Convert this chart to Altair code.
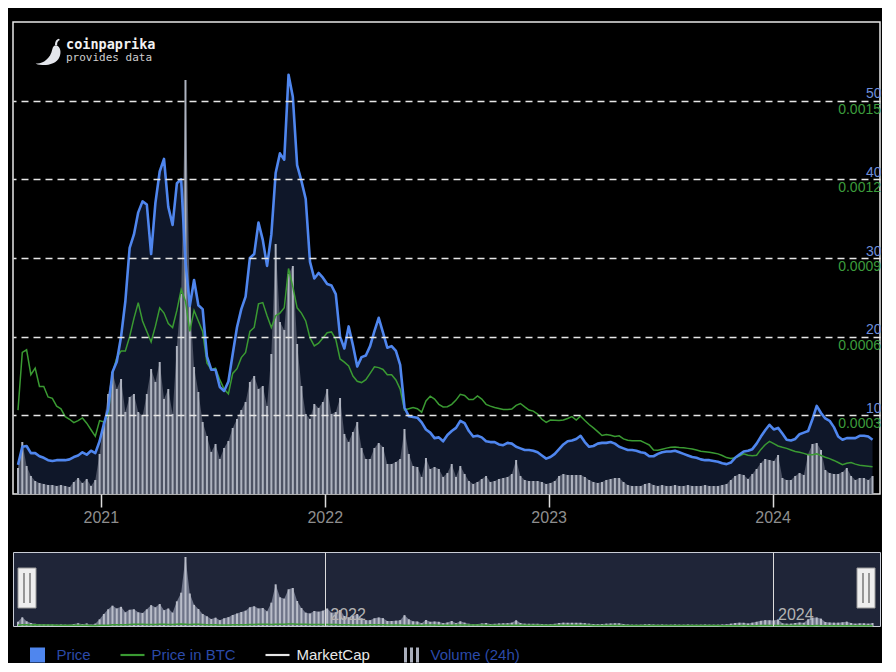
import altair as alt
import pandas as pd

# ---------------- data (weekly) ----------------
X_START = "2020-08-19"
X_END = "2024-06-16"
N_WEEKS = 200

price_usd = [
    3.7, 6.0, 6.1, 5.2, 5.2, 4.8, 4.6, 4.3, 4.2, 4.3,
    4.3, 4.3, 4.4, 4.7, 4.9, 5.3, 5.0, 5.5, 5.2, 6.7,
    8.9, 10.8, 15.5, 16.8, 20.0, 24.5, 31.3, 33.0, 35.8, 37.2,
    36.8, 30.5, 37.0, 41.0, 42.6, 36.5, 34.2, 39.5, 40.0, 29.5,
    23.9, 27.2, 24.0, 23.5, 17.5, 15.8, 15.8, 13.6, 13.1, 14.3,
    17.8, 21.2, 23.5, 25.1, 30.0, 30.5, 34.5, 32.3, 29.0, 33.0,
    40.8, 43.3, 42.5, 53.3, 50.5, 41.8, 39.8, 37.5, 29.5, 27.4,
    28.1, 27.5, 26.7, 26.5, 25.4, 20.0, 18.5, 21.3, 18.9, 16.2,
    17.4, 17.6, 18.8, 20.7, 22.4, 20.5, 18.6, 18.8, 18.2, 16.4,
    11.0, 9.9, 9.8, 9.7, 9.1, 8.2, 7.8, 7.1, 7.2, 6.7,
    7.5, 8.0, 8.4, 9.3, 9.0, 8.0, 7.3, 7.4, 7.2, 6.7,
    6.6, 6.6, 6.3, 6.2, 6.5, 6.4, 6.0, 5.8, 5.6, 5.6,
    5.5, 5.3, 4.9, 4.5, 4.7, 5.1, 5.7, 6.3, 6.7, 6.8,
    7.0, 7.4, 6.6, 6.0, 6.1, 6.4, 6.5, 6.5, 6.6, 6.4,
    6.0, 5.8, 5.6, 5.6, 5.5, 5.3, 5.2, 4.8, 4.8, 5.1,
    5.3, 5.4, 5.4, 5.5, 5.3, 5.1, 4.9, 4.7, 4.6, 4.4,
    4.3, 4.3, 4.2, 4.1, 3.9, 3.8, 4.0, 4.6, 5.0, 5.4,
    5.5, 5.7, 6.4, 7.3, 8.1, 8.8, 8.2, 8.4, 7.7, 6.9,
    6.8, 7.0, 7.6, 7.8, 8.0, 9.5, 11.2, 10.3, 9.6, 9.3,
    8.5, 7.3, 6.9, 7.1, 7.1, 7.1, 7.4, 7.4, 7.3, 6.9,
]

# price in BTC, in units of 1e-4 BTC
price_btc_e4 = [
    3.2, 5.4, 5.5, 4.55, 4.8, 4.1, 4.1, 3.7, 3.65, 3.35,
    3.25, 2.95, 2.85, 2.72, 2.8, 2.9, 2.7, 2.45, 2.2, 2.8,
    2.75, 3.0, 4.6, 5.2, 5.45, 5.45, 6.0, 6.7, 7.3, 6.6,
    6.2, 5.8, 6.4, 7.1, 6.9, 6.5, 6.35, 7.0, 7.8, 7.35,
    6.2, 7.0, 6.6, 6.2, 5.0, 4.74, 4.8, 4.35, 4.0, 3.82,
    4.6, 4.78, 5.2, 5.4, 6.2, 6.35, 7.25, 7.3, 6.8, 6.35,
    6.8, 6.9, 7.1, 8.6, 7.9, 7.1, 6.9, 6.6, 5.95, 5.65,
    5.75, 5.95, 6.15, 6.18, 5.9, 5.15, 5.03, 4.88, 4.5, 4.3,
    4.25, 4.36, 4.6, 4.85, 4.82, 4.75, 4.55, 4.55, 4.35, 4.0,
    3.2, 3.25, 3.3, 3.25, 3.12, 3.55, 3.73, 3.62, 3.42, 3.32,
    3.33, 3.42, 3.58, 3.8, 3.76, 3.6, 3.6, 3.74, 3.62, 3.42,
    3.35, 3.3, 3.26, 3.22, 3.22, 3.24, 3.38, 3.45, 3.32, 3.2,
    3.16, 3.05, 2.85, 2.73, 2.82, 2.81, 2.8, 2.82, 2.88, 2.95,
    2.82, 2.97, 2.8, 2.65, 2.52, 2.38, 2.23, 2.27, 2.24, 2.19,
    2.22, 2.1, 2.05, 2.03, 2.03, 2.03, 1.95, 1.87, 1.68, 1.67,
    1.71, 1.75, 1.78, 1.79, 1.77, 1.76, 1.74, 1.72, 1.68, 1.63,
    1.61, 1.59, 1.56, 1.53, 1.47, 1.39, 1.35, 1.38, 1.45, 1.53,
    1.48, 1.46, 1.48, 1.7, 1.88, 2.01, 1.92, 1.83, 1.78, 1.74,
    1.68, 1.62, 1.59, 1.55, 1.5, 1.5, 1.53, 1.47, 1.4, 1.35,
    1.28, 1.2, 1.12, 1.17, 1.2, 1.14, 1.1, 1.08, 1.06, 1.04,
]

# 24h volume, million USD
volume_musd = [
    1.3, 2.6, 1.4, 0.9, 0.65, 0.55, 0.5, 0.45, 0.45, 0.4,
    0.45, 0.4, 0.35, 0.6, 0.8, 0.55, 0.75, 0.4, 0.7, 2.0,
    3.6, 5.0, 6.1, 5.25, 5.75, 4.1, 4.85, 5.0, 4.1, 3.9,
    5.0, 6.25, 5.6, 6.6, 4.75, 5.25, 4.0, 7.4, 10.0, 20.7,
    9.75, 6.35, 5.1, 3.6, 2.9, 2.1, 2.5, 1.75, 2.3, 2.65,
    3.3, 3.75, 4.2, 4.6, 5.6, 5.9, 5.25, 5.4, 4.4, 7.0,
    12.5, 8.6, 8.2, 11.0, 11.4, 7.5, 5.4, 4.0, 3.75, 4.5,
    4.3, 4.6, 5.25, 4.0, 4.1, 4.8, 3.0, 2.6, 3.1, 3.6,
    2.3, 1.75, 1.75, 2.3, 2.55, 2.35, 1.5, 1.5, 1.6, 1.75,
    3.25, 2.0, 1.4, 1.35, 0.85, 1.8, 1.25, 1.35, 1.25, 0.85,
    1.05, 1.5, 0.85, 1.4, 1.0, 0.65, 0.5, 0.6, 0.75, 0.9,
    0.6, 0.65, 0.75, 0.8, 0.85, 1.0, 1.7, 0.9, 0.7, 0.65,
    0.65, 0.65, 0.6, 0.5, 0.55, 0.65, 0.9, 1.0, 0.95, 0.95,
    0.95, 0.95, 0.85, 0.7, 0.6, 0.55, 0.6, 0.7, 0.75, 0.8,
    0.8, 0.6, 0.45, 0.4, 0.4, 0.4, 0.5, 0.55, 0.45, 0.4,
    0.45, 0.4, 0.4, 0.45, 0.4, 0.4, 0.45, 0.4, 0.4, 0.4,
    0.45, 0.4, 0.4, 0.4, 0.45, 0.5, 0.7, 0.9, 1.0, 0.95,
    0.75, 1.0, 1.25, 1.55, 1.75, 1.7, 1.65, 1.95, 0.8, 0.7,
    0.7, 0.9, 1.05, 0.95, 2.0, 2.5, 2.55, 2.2, 1.2, 1.05,
    1.0, 1.0, 1.1, 1.3, 0.9, 0.7, 0.8, 0.8, 0.7, 0.9,
]

price_ticks = [10, 20, 30, 40, 50]
btc_ticks = [0.0003, 0.0006, 0.0009, 0.0012, 0.0015]
main_years = [2021, 2022, 2023, 2024]
nav_years = [2022, 2024]
legend_names = ["Price", "Price in BTC", "MarketCap", "Volume (24h)"]
legend_colors = ["#4f86ee", "#3a9a32", "#e6e6e6", "#a9aebb"]
logo_title = ["coinpaprika"]
logo_sub = ["provides data"]

# ---------------- build ----------------
dates = pd.date_range(X_START, periods=N_WEEKS, freq="7D")
df = pd.DataFrame({
    "date": dates,
    "price": price_usd,
    "btc": [v * 1e-4 for v in price_btc_e4],
    "volume": volume_musd,
})

W, H = 867, 472
NAV_H = 74
FONT = "Liberation Sans"
C_PRICE, C_BTC = legend_colors[0], legend_colors[1]


def dt(s):
    t = pd.Timestamp(s)
    return alt.DateTime(year=t.year, month=t.month, date=t.day)


x_dom = [dt(X_START), dt(X_END)]

x_main = alt.X(
    "date:T",
    scale=alt.Scale(domain=x_dom),
    title=None,
    axis=alt.Axis(
        values=[alt.DateTime(year=y, month=1, date=1) for y in main_years],
        format="%Y", labelColor="#8e8e8e", labelFontSize=16, labelFont=FONT,
        tickColor="#dcdcdc", tickSize=13, tickWidth=1.5, domain=False,
        grid=False, labelPadding=2, labelFlush=False,
    ),
)

price_scale = alt.Scale(domain=[0, 60])
btc_scale = alt.Scale(domain=[0, 0.0018])
vol_scale = alt.Scale(domain=[0, 23.6])

# legend symbols (filled shapes inside a 24px box)
SQUARE = "M-0.625,-0.625H0.625V0.625H-0.625Z"
LINE = "M-1,-0.09H1V0.09H-1Z"
STRIPES = ("M-0.625,-0.625H-0.375V0.625H-0.625Z M-0.125,-0.625H0.125V0.625H-0.125Z "
           "M0.375,-0.625H0.625V0.625H0.375Z")
legend = alt.Legend(
    orient="none", legendX=12.5, legendY=621, direction="horizontal", title=None,
    labelFontSize=15, labelFont=FONT,
    labelColor={"expr": "datum.value === 'MarketCap' ? '#e8e8e8' : '#2b4aa8'"},
    symbolSize=576, symbolOpacity=1, symbolStrokeWidth=0,
    labelOffset=7, columnPadding=29, padding=0,
)
legend_layer = alt.Chart(pd.DataFrame({"series": legend_names})).transform_filter(
    "false").mark_point(filled=True, opacity=1, strokeWidth=0).encode(
    color=alt.Color("series:N", scale=alt.Scale(domain=legend_names, range=legend_colors),
                    legend=legend),
    shape=alt.Shape("series:N", scale=alt.Scale(
        domain=legend_names, range=[SQUARE, LINE, LINE, STRIPES]), legend=legend),
)

base = alt.Chart(df)

mcap_area = base.mark_area(color="#0f1729").encode(
    x=x_main,
    y=alt.Y("price:Q", scale=price_scale, title=None, axis=alt.Axis(
        orient="right", values=price_ticks, grid=True, gridDash=[7, 5],
        gridColor="#e6e6e6", gridWidth=1.5, domain=False, ticks=False, tickSize=0,
        labelAlign="right", labelBaseline="bottom", labelPadding=1,
        labelColor="#6f8fdb", labelFontSize=14, labelFont=FONT, zindex=1,
    )),
)
vol_area = base.mark_area(color="#4c5263").encode(
    x=x_main, y=alt.Y("volume:Q", scale=vol_scale, axis=None))
vol_bars = base.mark_bar(color="#aeb3bf", width=2).encode(
    x=x_main, y=alt.Y("volume:Q", scale=vol_scale, axis=None))
btc_line = base.mark_line(strokeWidth=1.5, color=C_BTC).encode(
    x=x_main, y=alt.Y("btc:Q", scale=btc_scale, axis=None))
price_line = base.mark_line(strokeWidth=2.6, strokeJoin="round", color=C_PRICE).encode(
    x=x_main, y=alt.Y("price:Q", scale=price_scale, axis=None))

btc_labels = alt.Chart(pd.DataFrame({"v": btc_ticks})).mark_text(
    align="right", baseline="top", dy=2, fontSize=14, font=FONT, color="#3c9c3c"
).encode(
    x=alt.value(W + 1),
    y=alt.Y("v:Q", scale=btc_scale, axis=None),
    text=alt.Text("v:Q", format=".4f"),
)

logo1 = alt.Chart(pd.DataFrame({"t": logo_title})).mark_text(
    align="left", baseline="alphabetic", font="DejaVu Sans Mono", fontWeight="bold",
    fontSize=13.5, color="#f2f2f2").encode(x=alt.value(53), y=alt.value(27), text="t:N")
logo2 = alt.Chart(pd.DataFrame({"t": logo_sub})).mark_text(
    align="left", baseline="alphabetic", font="DejaVu Sans Mono",
    fontSize=11, color="#cfcfcf").encode(x=alt.value(53), y=alt.value(39), text="t:N")
CHILI = ("M-1,0.85 C-0.6,0.95 0.1,0.6 0.25,-0.2 C0.3,-0.45 0.45,-0.55 0.6,-0.5 "
         "C0.85,-0.4 0.95,0.0 0.8,0.35 C0.6,0.85 0.0,1.0 -0.5,0.98 C-0.8,0.97 -0.95,0.92 -1,0.85 Z "
         "M0.45,-0.52 C0.45,-0.8 0.55,-0.95 0.75,-1 L0.82,-0.9 C0.66,-0.84 0.6,-0.7 0.62,-0.52 Z")
chili = alt.Chart(pd.DataFrame({"t": logo_title})).mark_point(
    shape=CHILI, filled=True, size=700, color="#e4e6ec", opacity=1).encode(
    x=alt.value(36), y=alt.value(30))

main = alt.layer(
    mcap_area, vol_area, vol_bars, btc_line, price_line,
    btc_labels, logo1, logo2, chili, legend_layer,
).resolve_scale(y="independent").properties(
    width=W, height=H,
    view=alt.ViewBackground(fill="black", stroke="#e8e8e8", strokeWidth=1.5),
)

# ---------------- navigator ----------------
nav_x = alt.X(
    "date:T",
    scale=alt.Scale(domain=x_dom),
    title=None,
    axis=alt.Axis(
        values=[alt.DateTime(year=y, month=1, date=1) for y in nav_years],
        format="%Y", grid=True, gridColor="#dcdcdc", gridWidth=1, domain=False,
        ticks=False, tickSize=0, labelAlign="left", labelBaseline="alphabetic",
        labelPadding=-7, labelOffset=5, labelColor="#b3b3b3", labelFontSize=16,
        labelFont=FONT, zindex=1, labelFlush=False,
    ),
)
nav_vol_scale = alt.Scale(domain=[0, 22.2])
nav_area = base.mark_area(color="#6f7589").encode(
    x=nav_x, y=alt.Y("volume:Q", scale=nav_vol_scale, axis=None))
nav_bars = base.mark_bar(color="#b9bdc9", width=2).encode(
    x=nav_x, y=alt.Y("volume:Q", scale=nav_vol_scale, axis=None))
nav_btc = base.mark_line(color=C_BTC, strokeWidth=1.5).encode(
    x=nav_x, y=alt.Y("btc:Q", scale=alt.Scale(domain=[0, 0.03]), axis=None))

h_left = alt.Chart(pd.DataFrame({"date": [pd.Timestamp(X_START)]}))
h_right = alt.Chart(pd.DataFrame({"date": [pd.Timestamp(X_END)]}))
handle_style = dict(color="#eeeeee", stroke="#9a9a9a", strokeWidth=1)
lh = h_left.mark_bar(xOffset=0, x2Offset=18, **handle_style).encode(
    x=nav_x, x2="date:T", y=alt.value(16), y2=alt.value(56))
rh = h_right.mark_bar(xOffset=-18, x2Offset=0, **handle_style).encode(
    x=nav_x, x2="date:T", y=alt.value(16), y2=alt.value(56))
grips = []
for src, offs in ((h_left, (6, 12)), (h_right, (-12, -6))):
    for o in offs:
        grips.append(src.mark_rule(xOffset=o, color="#666666", strokeWidth=1.3).encode(
            x=nav_x, y=alt.value(21), y2=alt.value(51)))

nav = alt.layer(nav_area, nav_bars, nav_btc, lh, rh, *grips).resolve_scale(
    y="independent").properties(
    width=W, height=NAV_H,
    view=alt.ViewBackground(fill="#1f2538", stroke="#c9cdd6", strokeWidth=1),
)

chart = alt.vconcat(main, nav, spacing=25).properties(
    background="black",
    padding={"left": 4, "top": 13, "right": 0, "bottom": 0},
)

chart.save("out.html", embed_options={"renderer": "svg", "actions": False})
